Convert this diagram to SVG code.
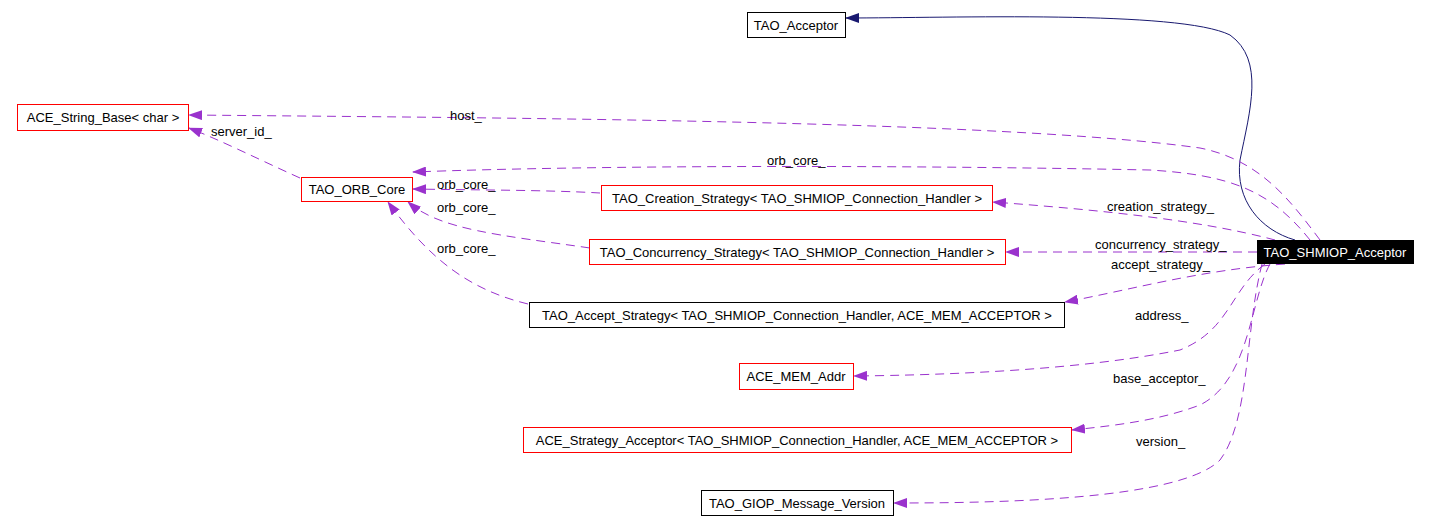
<svg xmlns="http://www.w3.org/2000/svg" width="1432" height="532" viewBox="0 0 1432 532">
<style>
.n rect{fill:#fff;stroke-width:1}
.r rect{stroke:#ff0000}.b rect{stroke:#000}
text{font-family:"Liberation Sans",Arial,sans-serif;font-size:13px;fill:#000}
.c path{fill:none;stroke:#9a32cd;stroke-dasharray:9,6}
.c path.i{stroke:#191970;stroke-dasharray:none}
</style>
<defs>
<marker id="m" markerWidth="14" markerHeight="10" refX="13" refY="5" orient="auto" markerUnits="userSpaceOnUse"><path d="M0,0L14,5L0,10z" fill="#9a32cd"/></marker>
<marker id="e" markerWidth="14" markerHeight="10" refX="13" refY="5" orient="auto" markerUnits="userSpaceOnUse"><path d="M0,0L14,5L0,10z" fill="#191970"/></marker>
</defs>
<rect width="1432" height="532" fill="#fff"/>
<g class="c">
<path class="i" d="M1295,240C1260,230 1235,200 1240,160C1250,110 1265,60 1230,35C1180,10 950,18 846,18" marker-end="url(#e)"/>
<path d="M1320,240C1290,200 1260,160 1200,148C1000,120 500,118 189,115" marker-end="url(#m)"/>
<path d="M1310,240C1270,190 1230,175 1150,170C900,165 600,165 413,172" marker-end="url(#m)"/>
<path d="M300,178C260,160 220,140 189,128" marker-end="url(#m)"/>
<path d="M600,193C550,190 470,190 413,189" marker-end="url(#m)"/>
<path d="M590,248C500,235 440,230 408,202" marker-end="url(#m)"/>
<path d="M528,304C470,290 430,260 388,202" marker-end="url(#m)"/>
<path d="M1275,240C1200,220 1100,210 993,202" marker-end="url(#m)"/>
<path d="M1257,252L1006,252" marker-end="url(#m)"/>
<path d="M1285,264C1200,270 1130,290 1065,302" marker-end="url(#m)"/>
<path d="M1265,264C1230,290 1230,330 1180,350C1080,370 950,375 854,376" marker-end="url(#m)"/>
<path d="M1270,264C1250,300 1250,380 1200,405C1160,420 1120,425 1072,430" marker-end="url(#m)"/>
<path d="M1262,264C1245,330 1250,420 1220,460C1180,500 1000,503 894,503" marker-end="url(#m)"/>
</g>
<g id="TAO_Acceptor" class="n b"><rect x="747.5" y="12.5" width="98" height="25"/><text x="796" y="30" text-anchor="middle">TAO_Acceptor</text></g>
<g id="ACE_String_Base" class="n r"><rect x="17.5" y="104.5" width="171" height="26"/><text x="103" y="122" text-anchor="middle">ACE_String_Base&lt; char &gt;</text></g>
<g id="TAO_ORB_Core" class="n r"><rect x="301.5" y="177.5" width="111" height="24"/><text x="357" y="194" text-anchor="middle">TAO_ORB_Core</text></g>
<g id="TAO_Creation_Strategy" class="n r"><rect x="601.5" y="185.5" width="391" height="25"/><text x="797" y="203" text-anchor="middle">TAO_Creation_Strategy&lt; TAO_SHMIOP_Connection_Handler &gt;</text></g>
<g id="TAO_Concurrency_Strategy" class="n r"><rect x="589.5" y="239.5" width="416" height="25"/><text x="797" y="257" text-anchor="middle">TAO_Concurrency_Strategy&lt; TAO_SHMIOP_Connection_Handler &gt;</text></g>
<g id="TAO_Accept_Strategy" class="n b"><rect x="529.5" y="302.5" width="535" height="25"/><text x="797" y="320" text-anchor="middle">TAO_Accept_Strategy&lt; TAO_SHMIOP_Connection_Handler, ACE_MEM_ACCEPTOR &gt;</text></g>
<g id="ACE_MEM_Addr" class="n r"><rect x="739.5" y="363.5" width="114" height="26"/><text x="796" y="381" text-anchor="middle">ACE_MEM_Addr</text></g>
<g id="ACE_Strategy_Acceptor" class="n r"><rect x="523.5" y="427.5" width="548" height="25"/><text x="797" y="445" text-anchor="middle">ACE_Strategy_Acceptor&lt; TAO_SHMIOP_Connection_Handler, ACE_MEM_ACCEPTOR &gt;</text></g>
<g id="TAO_GIOP_Message_Version" class="n b"><rect x="701.5" y="490.5" width="192" height="25"/><text x="797" y="508" text-anchor="middle">TAO_GIOP_Message_Version</text></g>
<g id="TAO_SHMIOP_Acceptor"><rect x="1257" y="240" width="157" height="24" fill="#000"/><text x="1335" y="257" text-anchor="middle" fill="#fff" style="fill:#fff">TAO_SHMIOP_Acceptor</text></g>
<g id="labels">
<text x="450" y="120">host_</text>
<text x="211" y="136">server_id_</text>
<text x="767" y="165">orb_core_</text>
<text x="437" y="189">orb_core_</text>
<text x="437" y="212">orb_core_</text>
<text x="437" y="253">orb_core_</text>
<text x="1107" y="211">creation_strategy_</text>
<text x="1095" y="249">concurrency_strategy_</text>
<text x="1111" y="269">accept_strategy_</text>
<text x="1135" y="320">address_</text>
<text x="1113" y="383">base_acceptor_</text>
<text x="1136" y="446">version_</text>
</g>
</svg>
